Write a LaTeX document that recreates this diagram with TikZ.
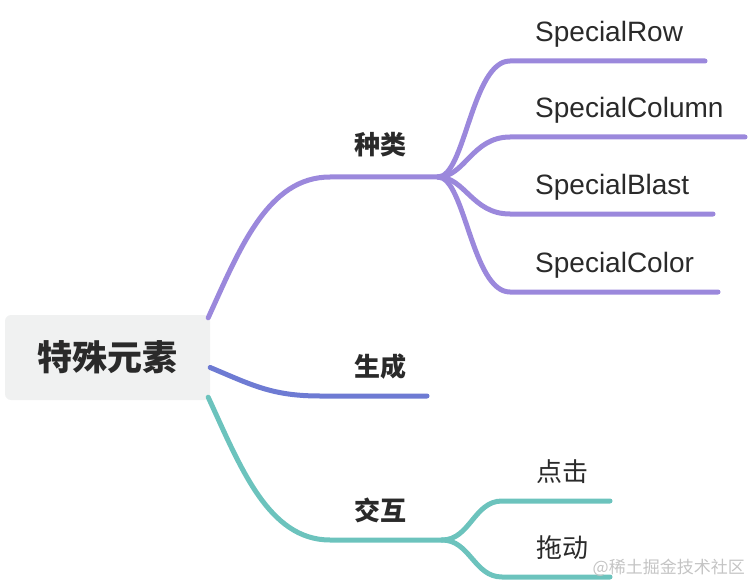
\documentclass[tikz,border=0pt]{standalone}
\usepackage{fontspec}
\setmainfont{Liberation Sans}
\newfontfamily\cjk{Noto Sans CJK SC}
\usepackage{xcolor}
\usetikzlibrary{positioning}

\definecolor{kindpurple}{HTML}{9B88DC}
\definecolor{makeblue}{HTML}{6E7BD3}
\definecolor{actteal}{HTML}{6CC3BD}
\definecolor{rootgray}{HTML}{F0F1F1}
\definecolor{inkdark}{HTML}{2A2A2A}
\definecolor{markgray}{HTML}{C4C4C4}

\begin{document}
\begin{tikzpicture}[x=1pt, y=-1pt,
  root/.style={fill=rootgray, rounded corners=6pt, minimum width=205pt, minimum height=85pt,
    font=\cjk\bfseries\fontsize{35}{35}\selectfont, text=inkdark},
  topic/.style={font=\cjk\bfseries\fontsize{26}{26}\selectfont, text=inkdark, inner sep=0pt},
  leaf/.style={font=\fontsize{28}{28}\selectfont, text=inkdark, inner sep=0pt, anchor=base west},
  cnleaf/.style={font=\cjk\fontsize{26}{26}\selectfont, text=inkdark, inner sep=0pt},
  branch/.style={line width=5pt, line cap=round}]
\useasboundingbox (0,0) rectangle (750,583);

% central topic
\node[root] (root) at (107.5,357.5) {特殊元素};

% main topics
\node[topic] (kind) at (380,145) {种类};
\node[topic] (make) at (380,367) {生成};
\node[topic] (act)  at (380,510) {交互};

\coordinate (kind-in) at (330,177);
\coordinate (kind-fork) at (438,177);
\coordinate (make-in) at (320,396);
\coordinate (make-end) at (427,396);
\coordinate (act-in) at (330,540);
\coordinate (act-fork) at (442,540);

% kinds
\node[leaf] (row)    at (535,42)  {SpecialRow};
\node[leaf] (column) at (535,118) {SpecialColumn};
\node[leaf] (blast)  at (535,195) {SpecialBlast};
\node[leaf] (color)  at (535,272) {SpecialColor};

\coordinate (row-in) at (510,61);      \coordinate (row-end) at (705,61);
\coordinate (column-in) at (510,137);  \coordinate (column-end) at (745,137);
\coordinate (blast-in) at (510,214);   \coordinate (blast-end) at (713,214);
\coordinate (color-in) at (510,292);   \coordinate (color-end) at (718,292);

% interactions
\node[cnleaf] (tap)  at (562,472) {点击};
\node[cnleaf] (drag) at (562,548) {拖动};
\coordinate (tap-in) at (502,501);   \coordinate (tap-end) at (610,501);
\coordinate (drag-in) at (502,577);  \coordinate (drag-end) at (610,577);

% branches
\draw[branch, kindpurple] ([xshift=-2pt,yshift=-3pt]root.north east)
  .. controls (240,248) and (268,177) .. (kind-in) -- (kind-fork);
\foreach \leafname in {row, column, blast, color}
  \draw[branch, kindpurple] (kind-fork) .. controls (465,177) and ([xshift=-38pt]\leafname-in) .. (\leafname-in) -- (\leafname-end);

\draw[branch, makeblue] ([yshift=-10pt]root.east)
  .. controls (252,385) and (272,396) .. (make-in) -- (make-end);

\draw[branch, actteal] ([xshift=-2pt,yshift=3pt]root.south east)
  .. controls (240,466) and (268,540) .. (act-in) -- (act-fork);
\draw[branch, actteal] (act-fork) .. controls (470,540) and ([xshift=-28pt]tap-in) .. (tap-in) -- (tap-end);
\draw[branch, actteal] (act-fork) .. controls (470,540) and ([xshift=-28pt]drag-in) .. (drag-in) -- (drag-end);

% watermark
\node[font=\cjk\fontsize{17}{17}\selectfont, text=markgray, anchor=east, inner sep=0pt] (mark) at (745,568) {@稀土掘金技术社区};
\end{tikzpicture}
\end{document}
